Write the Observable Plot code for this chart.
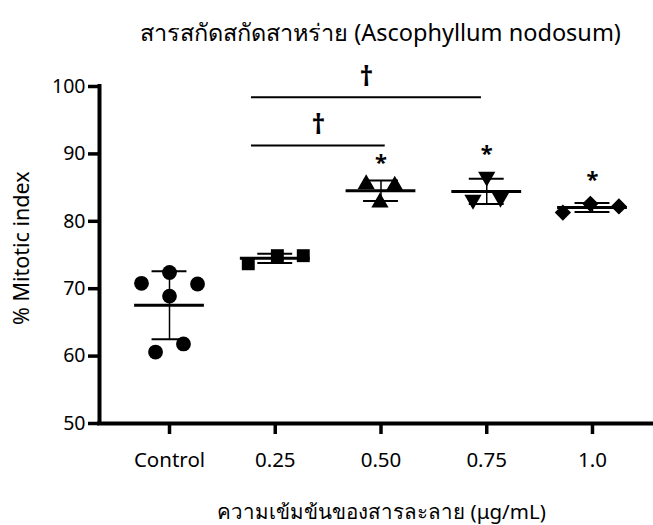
<!DOCTYPE html>
<html><head><meta charset="utf-8">
<script src="https://cdn.jsdelivr.net/npm/d3@7"></script>
<script src="https://cdn.jsdelivr.net/npm/@observablehq/plot@0.6"></script>
<style>body{margin:0;background:#fff}</style>
</head><body><div id="chart"></div>
<script>
// ---- data ----
const groups = ["Control", "0.25", "0.50", "0.75", "1.0"];
const controlValues = [70.8, 72.4, 70.7, 68.9, 61.8, 60.6];
const dose025Values = [73.7, 74.9, 74.9];
const dose050Values = [85.5, 82.8, 85.3];
const dose075Values = [83.2, 86.6, 83.5];
const dose100Values = [81.3, 82.6, 82.2];
const yTicks = [50, 60, 70, 80, 90, 100];
const titleText = "สารสกัดสกัดสาหร่าย (Ascophyllum nodosum)";
const yLabel = "% Mitotic index";
const xLabel = "ความเข้มข้นของสารละลาย (μg/mL)";
const daggerComparisons = [["0.25", "0.75"], ["0.25", "0.50"]];
const starGroups = ["0.50", "0.75", "1.0"];

// ---- layout / style ----
const seriesValues = [controlValues, dose025Values, dose050Values, dose075Values, dose100Values];
const jitter = [[-0.265, 0, 0.265, 0, 0.132, -0.132], [-0.255, 0.02, 0.265], [-0.14, -0.01, 0.13], [-0.13, 0, 0.13], [-0.28, -0.02, 0.25]];
const idx = g => groups.indexOf(g);

const triDown = {draw(ctx, size) {
  const y = -Math.sqrt(size / (Math.sqrt(3) * 3));
  ctx.moveTo(0, -2 * y); ctx.lineTo(-Math.sqrt(3) * y, y); ctx.lineTo(Math.sqrt(3) * y, y); ctx.closePath();
}};
const diamondSq = {draw(ctx, size) {
  const d = Math.sqrt(size) / Math.SQRT2;
  ctx.moveTo(0, -d); ctx.lineTo(d, 0); ctx.lineTo(0, d); ctx.lineTo(-d, 0); ctx.closePath();
}};
const symbols = ["circle", "square", "triangle", triDown, diamondSq];
const radii = [7.4, 7.3, 6.4, 6.4, 6.5];

const points = groups.flatMap((g, i) => seriesValues[i].map((v, j) => ({g, i, x: i + jitter[i][j], y: v})));
const stats = groups.map((g, i) => {
  const m = d3.mean(seriesValues[i]), s = d3.deviation(seriesValues[i]);
  return {g, i, m, lo: m - s, hi: m + s};
});
const bracketY = [98.4, 91.25];
const bracketX1 = [-0.225, -0.225];
const bracketX2 = [-0.05, 0.04];
const brackets = daggerComparisons.map(([a, b], k) => ({
  x1: idx(a) + bracketX1[k], x2: idx(b) + bracketX2[k], y: bracketY[k],
  tx: (idx(a) + bracketX1[k] + idx(b) + bracketX2[k]) / 2, ty: bracketY[k]
}));
const starY = [89.3, 90.6, 86.8];
const stars = starGroups.map((g, k) => ({x: idx(g), y: starY[k]}));
const yLabelCenter = 76;

const dotMarks = groups.map((g, i) => Plot.dot(points.filter(p => p.i === i), {
  x: "x", y: "y", symbol: symbols[i], r: radii[i], fill: "black", stroke: "none"
}));

const chart = Plot.plot({
  width: 653, height: 525,
  marginTop: 86, marginBottom: 102, marginLeft: 99, marginRight: 0,
  x: {domain: [-0.662, 4.577]},
  y: {domain: [50, 100]},
  style: {fontFamily: "'Noto Sans', 'DejaVu Sans', sans-serif", fontSize: "19px", color: "black", background: "white"},
  marks: [
    Plot.axisY({ticks: yTicks, tickSize: 11, tickPadding: 3, strokeWidth: 3.5, fontSize: 19.5, label: null}),
    Plot.axisX({ticks: [0, 1, 2, 3, 4], tickFormat: i => groups[i], tickSize: 11, tickPadding: 18, strokeWidth: 3.5, fontSize: 20.5, label: null}),
    Plot.ruleX([-0.662], {strokeWidth: 4, strokeLinecap: "square"}),
    Plot.ruleY([50], {strokeWidth: 4, strokeLinecap: "square"}),
    Plot.ruleY(stats, {y: "m", x1: d => d.i - 0.33, x2: d => d.i + 0.33, strokeWidth: 3}),
    Plot.ruleY(stats, {y: "hi", x1: d => d.i - 0.165, x2: d => d.i + 0.165, strokeWidth: 2}),
    Plot.ruleY(stats, {y: "lo", x1: d => d.i - 0.165, x2: d => d.i + 0.165, strokeWidth: 2}),
    Plot.ruleX(stats, {x: "i", y1: "lo", y2: "hi", strokeWidth: 1.5}),
    ...dotMarks,
    Plot.ruleY(brackets, {y: "y", x1: "x1", x2: "x2", strokeWidth: 2}),
    Plot.text(brackets, {x: "tx", y: "ty", text: () => "†", fontSize: 27, dy: -20, fontWeight: "bold"}),
    Plot.text(stars, {x: "x", y: "y", text: () => "*", fontSize: 22, dy: 4, fontWeight: "bold"}),
    Plot.text([titleText], {frameAnchor: "top", text: d => d, dy: -53, lineAnchor: "middle", textAnchor: "middle", dx: 4, fontSize: 23.5}),
    Plot.text([yLabel], {frameAnchor: "left", y: () => yLabelCenter, text: d => d, dx: -77, textAnchor: "middle", rotate: -90, fontSize: 21.5}),
    Plot.text([xLabel], {frameAnchor: "bottom", text: d => d, dy: 89, lineAnchor: "middle", textAnchor: "middle", dx: 5, fontSize: 20.5})
  ]
});
document.getElementById("chart").appendChild(chart);
</script>
</body></html>
